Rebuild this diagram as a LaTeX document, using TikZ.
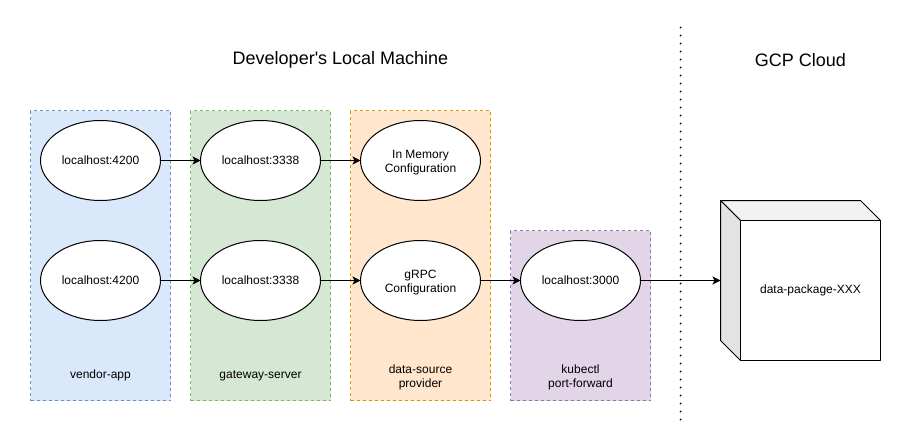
\documentclass[tikz,border=0pt]{standalone}
\usepackage{fontspec}
\setmainfont{Liberation Sans}
\newfontfamily\titlefont{Liberation Sans}
\usetikzlibrary{shapes.geometric,arrows.meta}
\definecolor{blueF}{HTML}{DAE8FC}\definecolor{blueS}{HTML}{6C8EBF}
\definecolor{greenF}{HTML}{D5E8D4}\definecolor{greenS}{HTML}{82B366}
\definecolor{orangeF}{HTML}{FFE6CC}\definecolor{orangeS}{HTML}{D79B00}
\definecolor{purpleF}{HTML}{E1D5E7}\definecolor{purpleS}{HTML}{9673A6}
\newcommand{\ovaltwo}[2]{\parbox{80pt}{\centering\vspace{5pt}#1\\#2}}
\tikzset{
 x=1pt,y=-1pt,
 every node/.style={font=\fontsize{12}{14}\selectfont,align=center,inner sep=0pt,outer sep=0pt},
 panel/.style={draw=#1S,fill=#1F,line width=1pt,dash pattern=on 3pt off 3pt,minimum width=140pt,anchor=north west},
 oval/.style={ellipse,draw=black,fill=white,line width=1pt,minimum width=120pt,minimum height=80pt},
 link/.style={draw=black,line width=1pt,-{Stealth[length=8pt,width=8pt,inset=2pt]}},
 title/.style={font=\titlefont\fontsize{18}{21}\selectfont},
 divider/.style={draw=black,line width=2pt,line cap=round,dash pattern=on 0pt off 8pt},
 twoline/.style={yshift=-1.5pt},
}
\begin{document}
\begin{tikzpicture}
\useasboundingbox (0,0) rectangle (922,442);
\begin{scope}[shift={(0.5,0.5)}]
\node[panel=blue,minimum height=290pt] (pa) at (30,110) {};
\node[panel=green,minimum height=290pt] (pb) at (190,110) {};
\node[panel=orange,minimum height=290pt] (pc) at (350,110) {};
\node[panel=purple,minimum height=170pt] (pd) at (510,230) {};
\node (la) at (100,375) {vendor-app};
\node (lb) at (260,375) {gateway-server};
\node[twoline] (lc) at (420,375) {data-source\\provider};
\node[twoline] (ld) at (580,375) {kubectl\\port-forward};
\node[title] (t1) at (340,59.5) {Developer's Local Machine};
\node[title] (t2) at (800,59.5) {GCP Cloud};
\node[oval] (a1) at (100,160) {localhost:4200};
\node[oval] (b1) at (260,160) {localhost:3338};
\node[oval] (c1) at (420,160) {\ovaltwo{In Memory}{Configuration}};
\node[oval] (a2) at (100,280) {localhost:4200};
\node[oval] (b2) at (260,280) {localhost:3338};
\node[oval] (c2) at (420,280) {\ovaltwo{gRPC}{Configuration}};
\node[oval] (d2) at (580,280) {localhost:3000};
\fill[fill=black!5,draw=black,line width=1pt,line join=round] (720,200) -- (860,200) -- (880,220) -- (740,220) -- cycle;
\fill[fill=black!11,draw=black,line width=1pt,line join=round] (720,200) -- (740,220) -- (740,360) -- (720,340) -- cycle;
\fill[fill=white,draw=black,line width=1pt,line join=round] (740,220) rectangle (880,360);
\node[minimum width=160pt,minimum height=160pt] (cube) at (800,280) {};
\node (cubetext) at (810,290) {data-package-XXX};
\coordinate (d1) at (680,27);
\coordinate (d0) at (680,420);
\draw[divider] (d1) -- (d0);
\draw[link] (a1) -- (b1);
\draw[link] (b1) -- (c1);
\draw[link] (a2) -- (b2);
\draw[link] (b2) -- (c2);
\draw[link] (c2) -- (d2);
\draw[link] (d2) -- (cube.west);
\end{scope}
\end{tikzpicture}
\end{document}
